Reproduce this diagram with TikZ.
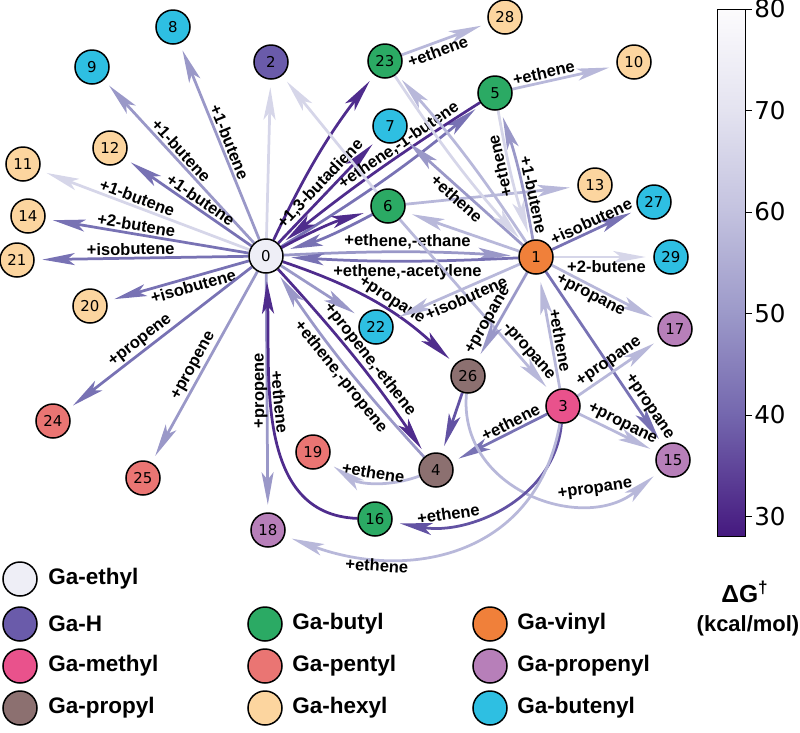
\documentclass[tikz,border=0pt]{standalone}
\usepackage{fontspec}
\setmainfont{Liberation Sans}
\newfontfamily\dejavu{DejaVu Sans}
\usepackage{tikz}
\usepackage{xcolor}
\usetikzlibrary{arrows.meta, calc, positioning}

\definecolor{cEthyl}{HTML}{EEEEF6}
\definecolor{cHyd}{HTML}{6A5BAA}
\definecolor{cMethyl}{HTML}{E9528C}
\definecolor{cPropyl}{HTML}{8C7070}
\definecolor{cButyl}{HTML}{2BAA64}
\definecolor{cPentyl}{HTML}{EA7573}
\definecolor{cHexyl}{HTML}{FCD59F}
\definecolor{cVinyl}{HTML}{F0803A}
\definecolor{cPropenyl}{HTML}{B77FB9}
\definecolor{cButenyl}{HTML}{2EBFE2}
\definecolor{gA}{HTML}{4F2C8D}
\definecolor{gB}{HTML}{6252A3}
\definecolor{gC}{HTML}{7872B4}
\definecolor{gD}{HTML}{9A98C8}
\definecolor{gE}{HTML}{B8B8DA}
\definecolor{gF}{HTML}{D6D6E9}
\definecolor{cbA}{HTML}{FCFBFD}
\definecolor{cbB}{HTML}{E4E3F0}
\definecolor{cbC}{HTML}{C3C2DF}
\definecolor{cbD}{HTML}{9C99C9}
\definecolor{cbE}{HTML}{7467AE}
\definecolor{cbF}{HTML}{45197F}

\pgfdeclarelayer{bg}
\pgfsetlayers{bg,main}

\tikzset{
    gnode/.style={circle, draw=black, line width=0.3mm, minimum size=6.8mm, inner sep=0pt, font=\dejavu\fontsize{8.5}{9}\selectfont},
    ethyl/.style={gnode, fill=cEthyl},
    hydride/.style={gnode, fill=cHyd},
    methyl/.style={gnode, fill=cMethyl},
    propyl/.style={gnode, fill=cPropyl},
    butyl/.style={gnode, fill=cButyl},
    pentyl/.style={gnode, fill=cPentyl},
    hexyl/.style={gnode, fill=cHexyl},
    vinyl/.style={gnode, fill=cVinyl},
    propenyl/.style={gnode, fill=cPropenyl},
    butenyl/.style={gnode, fill=cButenyl},
    rxn/.style={line width=0.55mm, -{Stealth[length=6.5mm, width=2.4mm, inset=1.5mm]}, shorten >=1.5mm},
    lbl/.style={text=black, font=\fontsize{9.4}{10}\selectfont\bfseries, inner sep=1pt, sloped},
    legtxt/.style={font=\fontsize{12.8}{14}\selectfont\bfseries, anchor=west, inner sep=0pt},
    ticklbl/.style={font=\dejavu\fontsize{14}{15}\selectfont, anchor=west, inner sep=1pt},
    cbtitle/.style={font=\fontsize{12.5}{13}\selectfont\bfseries, inner sep=0pt}
}

\begin{document}
\begin{tikzpicture}[x=0.2mm, y=-0.2mm]
    \useasboundingbox (0,0) rectangle (800,732);
    % species
    \node[ethyl] (n0) at (266,256) {0};
    \node[vinyl] (n1) at (536,257) {1};
    \node[hydride] (n2) at (271,62) {2};
    \node[methyl] (n3) at (563,406) {3};
    \node[propyl] (n4) at (436,470) {4};
    \node[butyl] (n5) at (495,93) {5};
    \node[butyl] (n6) at (388,206) {6};
    \node[butenyl] (n7) at (390,126) {7};
    \node[butenyl] (n8) at (173,27) {8};
    \node[butenyl] (n9) at (92,67) {9};
    \node[hexyl] (n10) at (634,62) {10};
    \node[hexyl] (n11) at (23,164) {11};
    \node[hexyl] (n12) at (110,148) {12};
    \node[hexyl] (n13) at (595,185) {13};
    \node[hexyl] (n14) at (28,216) {14};
    \node[propenyl] (n15) at (673,460) {15};
    \node[butyl] (n16) at (375,519) {16};
    \node[propenyl] (n17) at (675,329) {17};
    \node[propenyl] (n18) at (268,530) {18};
    \node[pentyl] (n19) at (313,452) {19};
    \node[hexyl] (n20) at (90,306) {20};
    \node[hexyl] (n21) at (17,260) {21};
    \node[butenyl] (n22) at (376,327) {22};
    \node[butyl] (n23) at (385,61) {23};
    \node[pentyl] (n24) at (53,421) {24};
    \node[pentyl] (n25) at (143,478) {25};
    \node[propyl] (n26) at (468,376) {26};
    \node[butenyl] (n27) at (654,202) {27};
    \node[hexyl] (n28) at (505,17) {28};
    \node[butenyl] (n29) at (671,257) {29};

    \begin{pgfonlayer}{bg}
    % reactions of Ga-ethyl
    \draw[rxn, gD] (n0) to node[lbl, above, pos=.48] {+1-butene} (n8);
    \draw[rxn, gD] (n0) to node[lbl, above, pos=.53] {+1-butene} (n9);
    \draw[rxn, gC] (n0) to node[lbl, above, pos=.44] {+1-butene} (n12);
    \draw[rxn, gF] (n0) to node[lbl, above, pos=.55] {+1-butene} (n11);
    \draw[rxn, gC] (n0) to node[lbl, above, pos=.56] {+2-butene} (n14);
    \draw[rxn, gC] (n0) to node[lbl, above, pos=.55] {+isobutene} (n21);
    \draw[rxn, gC] (n0) to node[lbl, below, pos=.41] {+isobutene} (n20);
    \draw[rxn, gC] (n0) to node[lbl, above, pos=.57] {+propene} (n24);
    \draw[rxn, gD] (n0) to node[lbl, above, pos=.52] {+propene} (n25);
    \draw[rxn, gD] (n0) to node[lbl, above=2pt, rotate=180, pos=.49] {+propene} (n18);
    \draw[rxn, gF] (n0) to (n2);
    \draw[rxn, gA] (n0) to[bend left=6] (n23);
    \draw[rxn, gA] (n0) to node[lbl, above, pos=.5] {+1,3-butadiene} (n7);
    \draw[rxn, gC] (n0) to[bend right=4] (n5);
    \draw[rxn, gA] (n5) to[bend right=3] node[lbl, above=-1pt, pos=.36] {+ethene,-1-butene} (n0);
    \draw[rxn, gA] (n0) to[bend left=6] (n6);
    \draw[rxn, gC] (n6) to[bend left=6] (n0);
    \draw[rxn, gD] (n0) to[bend left=3] node[lbl, above, pos=.53] {+ethene,-ethane} (n1);
    \draw[rxn, gC] (n1) to[bend left=3] node[lbl, below, pos=.47] {+ethene,-acetylene} (n0);
    \draw[rxn, gD] (n0) to (n22);
    \draw[rxn, gA] (n0) to[bend left=12] node[lbl, above, pos=.57] {+propane} (n26);
    \draw[rxn, gA] (n0) to[bend left=4] node[lbl, above, pos=.54] {+propene,-ethene} (n4);
    \draw[rxn, gD] (n4) to[bend left=4] node[lbl, below, pos=.48] {+ethene,-propene} (n0);
    \draw[rxn, gA] (n16) to[out=178, in=-88] node[lbl, above, pos=.6] {+ethene} (n0);
    % the other reactions
    \draw[rxn, gF] (n6) to (n2);
    \draw[rxn, gE] (n6) to (n13);
    \draw[rxn, gE] (n6) to node[lbl, above, pos=.8] {-propane} (n3);
    \draw[rxn, gE] (n1) to (n6);
    \draw[rxn, gD] (n1) to node[lbl, below, pos=.5] {+ethene} (n7);
    \draw[rxn, gE] (n1) to[bend right=4] (n23);
    \draw[rxn, gF] (n23) to[bend right=4] (n1);
    \draw[rxn, gE] (n23) to node[lbl, below, pos=.38] {+ethene} (n28);
    \draw[rxn, gE] (n5) to node[lbl, above, pos=.32] {+ethene} (n10);
    \draw[rxn, gD] (n1) to[bend right=4] node[lbl, above, pos=.31] {+1-butene} (n5);
    \draw[rxn, gF] (n5) to[bend right=4] node[lbl, above, rotate=180, pos=.4] {+ethene} (n1);
    \draw[rxn, gC] (n1) to node[lbl, above, pos=.5] {+isobutene} (n27);
    \draw[rxn, gF] (n1) to node[lbl, below, pos=.53] {+2-butene} (n29);
    \draw[rxn, gE] (n1) to node[lbl, below, pos=.4] {+propane} (n17);
    \draw[rxn, gC] (n1) to node[lbl, above, pos=.81] {+propane} (n15);
    \draw[rxn, gE] (n1) to node[lbl, below, pos=.45] {+isobutene} (n22);
    \draw[rxn, gD] (n1) to node[lbl, above, pos=.6] {+propane} (n26);
    \draw[rxn, gE] (n3) to node[lbl, above, pos=.41] {+ethene} (n1);
    \draw[rxn, gE] (n3) to node[lbl, above, pos=.45] {+propane} (n17);
    \draw[rxn, gE] (n3) to node[lbl, above, pos=.5] {+propane} (n15);
    \draw[rxn, gC] (n3) to node[lbl, above, pos=.34] {+ethene} (n4);
    \draw[rxn, gB] (n26) to (n4);
    \draw[rxn, gE] (n26) to[out=-95, in=-140, looseness=1.2] node[lbl, above, pos=.75] {+propane} (n15);
    \draw[rxn, gB] (n3) to[out=-95, in=-10] node[lbl, above, pos=.75] {+ethene} (n16);
    \draw[rxn, gE] (n3) to[out=-100, in=-20, looseness=1.15] node[lbl, below, pos=.75] {+ethene} (n18);
    \draw[rxn, gE] (n4) to[out=-160, in=-35] node[lbl, above, pos=.5] {+ethene} (n19);
    \end{pgfonlayer}

    % legend
    \node[ethyl] (kEthyl) at (20,579) {};
    \node[legtxt] (tEthyl) at (48,579) {Ga-ethyl};
    \node[hydride] (kHyd) at (20,624) {};
    \node[legtxt] (tHyd) at (48,624) {Ga-H};
    \node[methyl] (kMethyl) at (20,666) {};
    \node[legtxt] (tMethyl) at (48,666) {Ga-methyl};
    \node[propyl] (kPropyl) at (20,708) {};
    \node[legtxt] (tPropyl) at (48,708) {Ga-propyl};
    \node[butyl] (kButyl) at (265,624) {};
    \node[legtxt] (tButyl) at (292,624) {Ga-butyl};
    \node[pentyl] (kPentyl) at (265,666) {};
    \node[legtxt] (tPentyl) at (292,666) {Ga-pentyl};
    \node[hexyl] (kHexyl) at (265,708) {};
    \node[legtxt] (tHexyl) at (292,708) {Ga-hexyl};
    \node[vinyl] (kVinyl) at (490,624) {};
    \node[legtxt] (tVinyl) at (517,624) {Ga-vinyl};
    \node[propenyl] (kPropenyl) at (490,666) {};
    \node[legtxt] (tPropenyl) at (517,666) {Ga-propenyl};
    \node[butenyl] (kButenyl) at (490,708) {};
    \node[legtxt] (tButenyl) at (517,708) {Ga-butenyl};

    % colour bar
    \shade[top color=cbA, bottom color=cbB] (717,9) rectangle (745,110.5);
    \shade[top color=cbB, bottom color=cbC] (717,110) rectangle (745,212);
    \shade[top color=cbC, bottom color=cbD] (717,211.5) rectangle (745,313.5);
    \shade[top color=cbD, bottom color=cbE] (717,313) rectangle (745,415);
    \shade[top color=cbE, bottom color=cbF] (717,414.5) rectangle (745,536);
    \draw[line width=0.2mm] (717,9) rectangle (745,536);
    \foreach \v in {30,40,50,60,70,80}{
        \pgfmathsetmacro\ty{9+(80-\v)*10.15}
        \draw[line width=0.2mm] (745,\ty) -- (752,\ty) node[ticklbl] (tk\v) {\v};
    }
    \node[cbtitle, font=\fontsize{14}{15}\selectfont\bfseries] (dg) at (745,592) {ΔG\textsuperscript{\textdagger}};
    \node[cbtitle] (unit) at (748,626) {(kcal/mol)};
\end{tikzpicture}
\end{document}
